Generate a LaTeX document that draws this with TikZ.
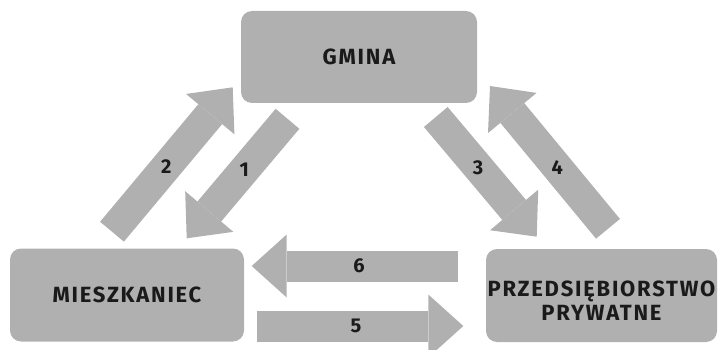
\documentclass[tikz,border=0pt]{standalone}
\usepackage{fontspec}
\setmainfont{Fira Sans}
\newfontfamily\spacedfont{Fira Sans}[LetterSpace=8]
\usetikzlibrary{arrows.meta}
\definecolor{boxgray}{RGB}{176,176,176}
\definecolor{inkgray}{RGB}{26,26,26}

\begin{document}
\begin{tikzpicture}[
        x=1pt, y=-1pt,
        box/.style={rectangle, rounded corners=11pt, fill=boxgray, align=center, inner sep=0pt, text=inkgray, font=\spacedfont\bfseries\fontsize{22}{24}\selectfont},
        flow/.style={draw=boxgray, line width=31pt, -{Triangle[width=63pt, length=35pt, line width=0pt]}},
        num/.style={text=inkgray, font=\bfseries\fontsize{20}{22}\selectfont}
    ]
        \useasboundingbox (0,0) rectangle (718,350);

        \node[box, minimum width=236pt, minimum height=92pt] (gmina) at (359,57) {GMINA};
        \node[box, minimum width=234pt, minimum height=93pt] (mieszkaniec) at (127,295) {MIESZKANIEC};
        \node[box, minimum width=231pt, minimum height=93pt] (firma) at (601.5,295.5) {\rule{0pt}{25pt}PRZEDSIĘBIORSTWO\\PRYWATNE};

        % ends of the flows
        \coordinate (t1) at (287.5,118.8); \coordinate (h1) at (186.7,238.3);
        \coordinate (t2) at (112,231.7);   \coordinate (h2) at (232.7,87.3);
        \coordinate (t3) at (435.8,117);   \coordinate (h3) at (536.7,236.7);
        \coordinate (t4) at (608,228.8);   \coordinate (h4) at (490,86);
        \coordinate (t5) at (256.7,326);   \coordinate (h5) at (463.3,326);
        \coordinate (t6) at (458.3,266);   \coordinate (h6) at (251.7,266);

        \draw[flow] (t1) -- node[num, pos=0.43] {1} (h1);
        \draw[flow] (t2) -- node[num, pos=0.45] {2} (h2);
        \draw[flow] (t3) -- node[num, pos=0.42] {3} (h3);
        \draw[flow] (t4) -- node[num, pos=0.43] {4} (h4);
        \draw[flow] (t5) -- node[num, pos=0.48] {5} (h5);
        \draw[flow] (t6) -- node[num, pos=0.48] {6} (h6);
    \end{tikzpicture}
\end{document}
